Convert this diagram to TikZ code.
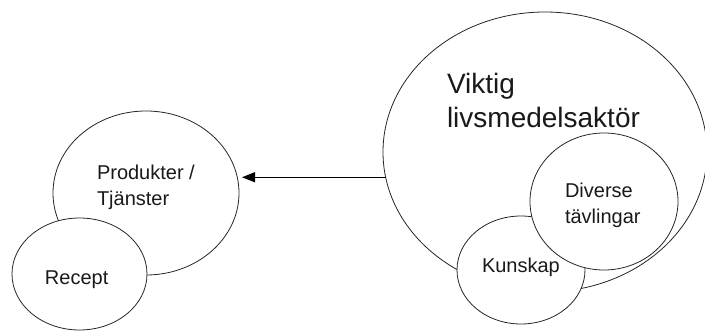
\documentclass[tikz,border=0pt]{standalone}
\usepackage{fontspec}
\setmainfont{Liberation Sans}
\usetikzlibrary{shapes.geometric,arrows.meta}
\begin{document}
\begin{tikzpicture}[x=1pt,y=-1pt,
  blob/.style={ellipse,draw=black!85,line width=0.8pt,fill=white,inner sep=0pt,outer sep=0pt},
  txt/.style={inner sep=0pt,outer sep=0pt,text=black!90,align=left,font=\fontsize{20}{26}\selectfont},
  bigtxt/.style={inner sep=0pt,outer sep=0pt,text=black!90,align=left,font=\fontsize{28}{34}\selectfont},
  arr/.style={line width=1.3pt,-{Triangle[length=13pt,width=10pt]}}]
\useasboundingbox (0,0) rectangle (705,331);
\clip (0,0) rectangle (705,331);
% right group
\node[blob,minimum width=324pt,minimum height=280pt] (big) at (545,152) {};
\node[blob,minimum width=128pt,minimum height=108pt] (kun) at (521,270) {};
\node[blob,minimum width=148pt,minimum height=137pt] (div) at (604,201.5) {};
\node[bigtxt,anchor=west] (viktig) at (447,100) {Viktig\\livsmedelsaktör};
\node[txt,anchor=west] (divtxt) at (565,205) {Diverse\\tävlingar};
\node[txt,anchor=base west] (kuntxt) at (482,273) {Kunskap};
% left group
\node[blob,minimum width=186pt,minimum height=164pt] (prod) at (146,193) {};
\node[blob,minimum width=135pt,minimum height=112pt] (rec) at (79.5,274) {};
\node[txt,anchor=west] (prodtxt) at (97,187) {Produkter /\\Tjänster};
\node[txt,anchor=base west] (rectxt) at (45,285) {Recept};
% arrow
\draw[arr,shorten >=3pt] (big.189) -- (big.189 -| prod.east);
\end{tikzpicture}
\end{document}
